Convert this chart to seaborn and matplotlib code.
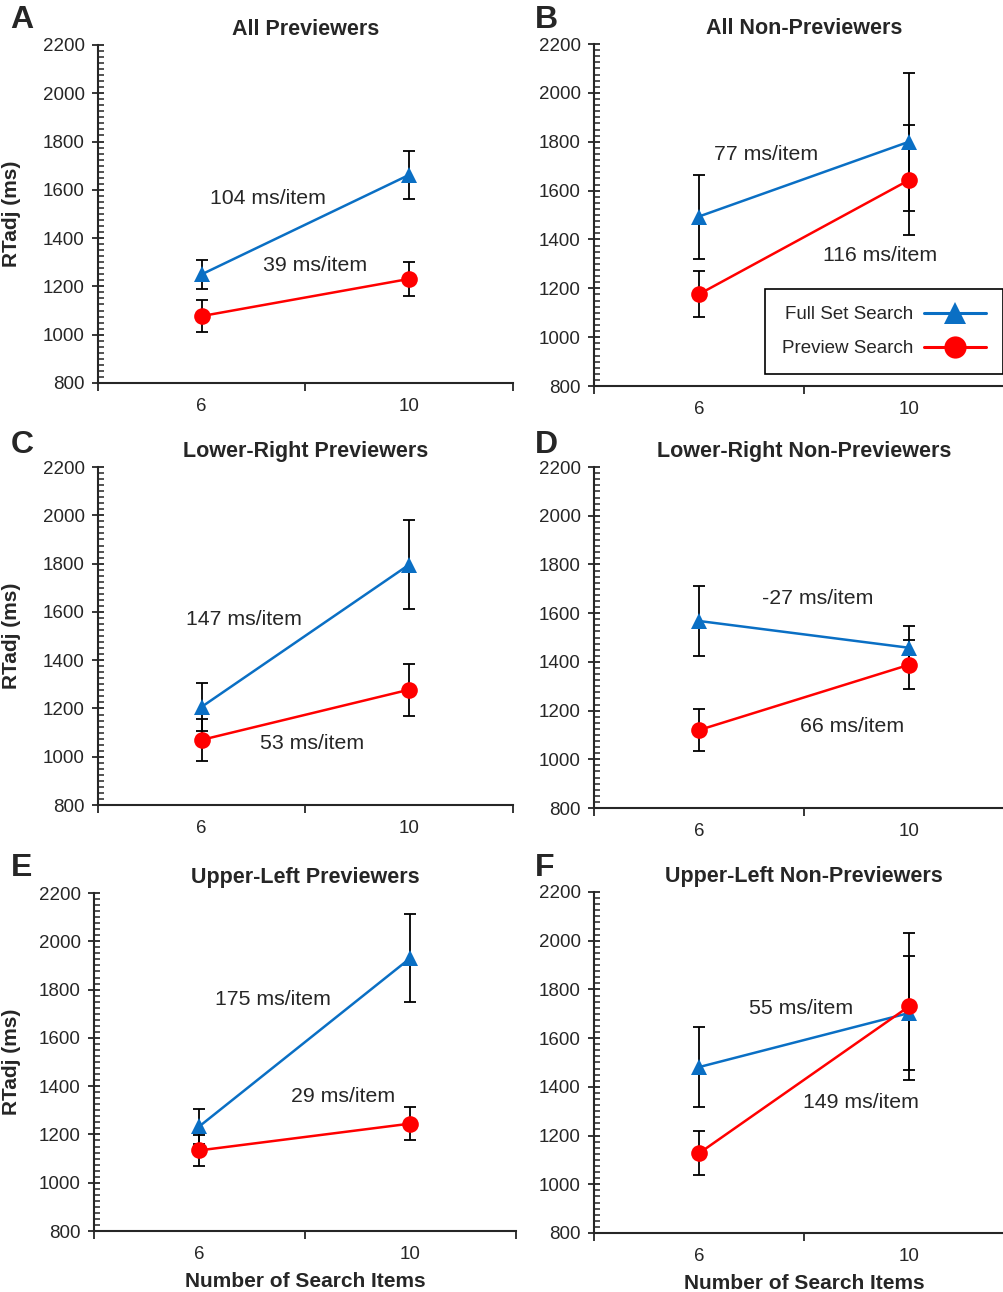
import pandas as pd
import seaborn as sns
import matplotlib.pyplot as plt
from matplotlib.ticker import MultipleLocator

# data
panel_letters = ['A', 'B', 'C', 'D', 'E', 'F']
panel_titles = ['All Previewers', 'All Non-Previewers',
                'Lower-Right Previewers', 'Lower-Right Non-Previewers',
                'Upper-Left Previewers', 'Upper-Left Non-Previewers']
set_sizes = [6, 10]
conditions = ['Full Set Search', 'Preview Search']

full_mean = [[1250, 1662], [1494, 1800], [1207, 1796], [1568, 1458], [1234, 1931], [1481, 1703]]
full_err = [[60, 100], [172, 282], [100, 183], [144, 90], [72, 182], [165, 235]]
preview_mean = [[1077, 1231], [1176, 1643], [1070, 1278], [1120, 1388], [1134, 1245], [1127, 1730]]
preview_err = [[66, 70], [95, 225], [88, 108], [85, 100], [65, 70], [91, 300]]

slope_full = ['104 ms/item', '77 ms/item', '147 ms/item', '-27 ms/item', '175 ms/item', '55 ms/item']
slope_preview = ['39 ms/item', '116 ms/item', '53 ms/item', '66 ms/item', '29 ms/item', '149 ms/item']

rows = []
for i, p in enumerate(panel_letters):
    for j, n in enumerate(set_sizes):
        rows.append({'panel': p, 'items': n, 'cond': conditions[0],
                     'rt': full_mean[i][j], 'err': full_err[i][j]})
        rows.append({'panel': p, 'items': n, 'cond': conditions[1],
                     'rt': preview_mean[i][j], 'err': preview_err[i][j]})
df = pd.DataFrame(rows)

sns.set_style('ticks')
plt.rcParams['font.family'] = ['Liberation Sans', 'DejaVu Sans']

palette = {'Full Set Search': '#0a6fc4', 'Preview Search': '#ff0000'}
markers = {'Full Set Search': '^', 'Preview Search': 'o'}

# layout: axes rectangles, annotation spots, panel-letter spots
axes_rects = [
    (0.0976, 0.7036, 0.4133, 0.2616),
    (0.5916, 0.7012, 0.4183, 0.2647),
    (0.0976, 0.3769, 0.4133, 0.2616),
    (0.5916, 0.3746, 0.4183, 0.2639),
    (0.0936, 0.0472, 0.4203, 0.2616),
    (0.5916, 0.0457, 0.4183, 0.2639),
]
note_pos = [((6.16, 1566), (7.18, 1285)),
            ((6.29, 1746), (8.36, 1336)),
            ((5.70, 1570), (7.12, 1057)),
            ((7.20, 1662), (7.92, 1133)),
            ((6.29, 1757), (7.73, 1359)),
            ((6.95, 1720), (7.98, 1334))]
letter_pos = [(0.010, 0.9845), (0.533, 0.9845), (0.011, 0.6556),
              (0.533, 0.6556), (0.011, 0.3282), (0.533, 0.3282)]

fig = plt.figure(figsize=(10.04, 12.92), dpi=100)

for i, p in enumerate(panel_letters):
    rect = axes_rects[i]
    ax = fig.add_axes(rect)
    sub = df[df['panel'] == p]

    for c in conditions:
        s = sub[sub['cond'] == c]
        ax.errorbar(s['items'], s['rt'], yerr=s['err'], fmt='none', ecolor='black',
                    elinewidth=1.3, capsize=4.3, capthick=1.3, zorder=1)

    sns.lineplot(data=sub, x='items', y='rt', hue='cond', style='cond',
                 palette=palette, markers=markers, dashes=False,
                 markersize=12, markeredgewidth=0, linewidth=1.8,
                 legend=(p == 'B'), ax=ax, zorder=2)

    ax.set_xlim(4, 12)
    ax.set_ylim(800, 2200)
    ax.set_xticks([4, 8, 12], labels=['', '', ''])
    ax.set_xticks(set_sizes, labels=[str(n) for n in set_sizes], minor=True)
    ax.set_yticks(range(800, 2201, 200))
    ax.yaxis.set_minor_locator(MultipleLocator(25))

    ax.tick_params(axis='y', which='major', direction='inout', length=9, width=1.3,
                   labelsize=13.5, pad=5)
    ax.tick_params(axis='y', which='minor', direction='in', length=4.5, width=1.1)
    ax.tick_params(axis='x', which='major', direction='out', length=6, width=1.3)
    ax.tick_params(axis='x', which='minor', length=0, labelsize=13.5, pad=11)

    for side in ['top', 'right']:
        ax.spines[side].set_visible(False)
    for side in ['left', 'bottom']:
        ax.spines[side].set_linewidth(1.5)

    ax.set_title(panel_titles[i], fontsize=15.5, fontweight='bold', pad=7)

    if i % 2 == 0:
        ax.set_ylabel('RTadj (ms)', fontsize=15, fontweight='bold')
        ax.yaxis.set_label_coords((0.021 - rect[0]) / rect[2], 0.5)
    else:
        ax.set_ylabel('')

    if i >= 4:
        ax.set_xlabel('Number of Search Items', fontsize=15, fontweight='bold')
        ax.xaxis.set_label_coords(0.5, -0.148)
        ax.xaxis.label.set_va('center')
    else:
        ax.set_xlabel('')

    (fx, fy), (px, py) = note_pos[i]
    ax.text(fx, fy, slope_full[i], fontsize=15.3, ha='left', va='center')
    ax.text(px, py, slope_preview[i], fontsize=15.3, ha='left', va='center')

    fig.text(letter_pos[i][0], letter_pos[i][1], p, fontsize=23, fontweight='bold',
             ha='left', va='center')

    if p == 'B':
        sns.move_legend(ax, 'lower right', bbox_to_anchor=(0.974, 0.035), title=None,
                        frameon=True, fancybox=False, framealpha=1, edgecolor='black',
                        markerfirst=False, handlelength=3.3, fontsize=13.5,
                        borderpad=0.9, labelspacing=0.9, handletextpad=0.6,
                        borderaxespad=0)
        leg = ax.get_legend()
        leg.get_frame().set_linewidth(1.2)
        leg._legend_box.sep = 10
        for h in leg.legend_handles:
            h.set_markersize(16)
            h.set_linewidth(2.2)

fig.savefig('out.png', dpi=100)
